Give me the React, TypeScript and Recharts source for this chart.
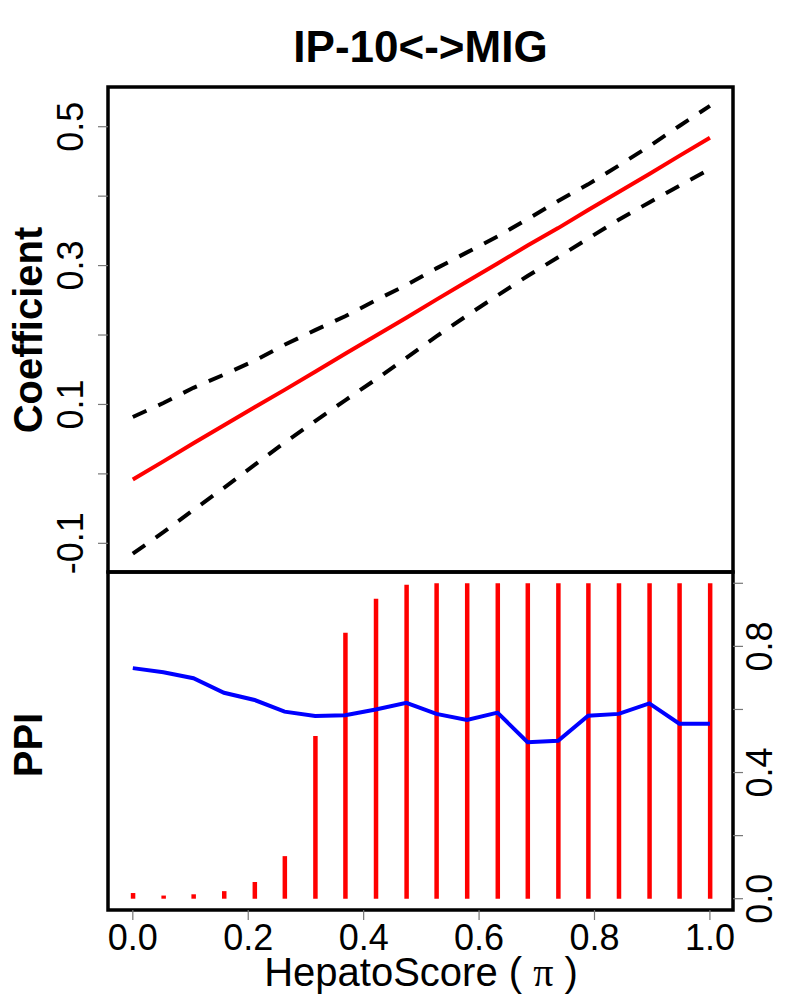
import React from "react";
import {
  ComposedChart, Line, Bar, XAxis, YAxis, ReferenceArea,
} from "recharts";

const FONT = "'Liberation Sans', Arial, Helvetica, sans-serif";

// HepatoScore grid (20 points)
const xs = [0, 0.053, 0.105, 0.158, 0.211, 0.263, 0.316, 0.368, 0.421, 0.474,
  0.526, 0.579, 0.632, 0.684, 0.737, 0.789, 0.842, 0.895, 0.947, 1.0];

// coefficient panel
const coefFit = [-0.008, 0.018, 0.044, 0.070, 0.096, 0.121, 0.147, 0.173, 0.199, 0.225,
  0.251, 0.277, 0.303, 0.329, 0.354, 0.380, 0.406, 0.432, 0.458, 0.484];
const coefUpper = [0.082, 0.102, 0.124, 0.143, 0.163, 0.186, 0.207, 0.227, 0.250, 0.272,
  0.296, 0.319, 0.342, 0.367, 0.393, 0.417, 0.444, 0.472, 0.501, 0.530];
const coefLower = [-0.115, -0.084, -0.052, -0.020, 0.013, 0.045, 0.076, 0.106, 0.136, 0.167,
  0.198, 0.228, 0.257, 0.285, 0.312, 0.339, 0.366, 0.391, 0.415, 0.439];

// PPI panel
const ppiLine = [0.731, 0.718, 0.699, 0.653, 0.630, 0.593, 0.579, 0.582, 0.600, 0.621,
  0.586, 0.567, 0.590, 0.496, 0.501, 0.580, 0.586, 0.619, 0.555, 0.555];
const ppiBars = [0.018, 0.010, 0.014, 0.024, 0.053, 0.135, 0.516, 0.843, 0.951, 0.995,
  1.0, 1.0, 1.0, 1.0, 1.0, 1.0, 1.0, 1.0, 1.0, 1.0];

const xTicks = [0, 0.2, 0.4, 0.6, 0.8, 1.0];
const coefTicks = [-0.1, 0, 0.1, 0.2, 0.3, 0.4, 0.5];
const coefLabels = [-0.1, 0.1, 0.3, 0.5];
const ppiTicks = [0, 0.2, 0.4, 0.6, 0.8, 1.0];
const ppiLabels = [0, 0.4, 0.8];

const X_DOM: [number, number] = [-0.043, 1.04];
const COEF_DOM: [number, number] = [-0.1413, 0.5572];
const PPI_DOM: [number, number] = [-0.0358, 1.0358];

const tickStyle = { stroke: "#777", strokeWidth: 1.2 };

function LeftTick({ y, payload }: any) {
  if (!coefLabels.includes(payload.value)) return <g />;
  return (
    <text x={83} y={y} transform={`rotate(-90 83 ${y})`} textAnchor="middle"
      fontFamily={FONT} fontSize={36} fill="#000">
      {payload.value.toFixed(1)}
    </text>
  );
}

function RightTick({ y, payload }: any) {
  if (!ppiLabels.includes(payload.value)) return <g />;
  return (
    <text x={772} y={y} transform={`rotate(-90 772 ${y})`} textAnchor="middle"
      fontFamily={FONT} fontSize={36} fill="#000">
      {payload.value.toFixed(1)}
    </text>
  );
}

function BottomTick({ x, payload }: any) {
  return (
    <text x={x} y={950} textAnchor="middle" fontFamily={FONT} fontSize={36} fill="#000">
      {payload.value.toFixed(1)}
    </text>
  );
}

export default function App() {
  const top = xs.map((x, i) => ({ x, fit: coefFit[i], up: coefUpper[i], lo: coefLower[i] }));
  const bottom = xs.map((x, i) => ({ x, ppi: ppiLine[i], bar: ppiBars[i] }));

  return (
    <div style={{ position: "absolute", left: 0, top: 0, width: 800, height: 1000, background: "#fff" }}>
      <div style={{ position: "absolute", left: 0, top: 0 }}>
        <ComposedChart width={800} height={600} data={top}
          margin={{ top: 87, right: 67, bottom: 28, left: 0 }}>
          <XAxis type="number" dataKey="x" domain={X_DOM} allowDataOverflow hide />
          <YAxis type="number" domain={COEF_DOM} allowDataOverflow ticks={coefTicks}
            width={108} axisLine={false} tickSize={10} tickLine={tickStyle}
            tick={<LeftTick />} interval={0} />
          <Line dataKey="up" stroke="#000" strokeWidth={4} strokeDasharray="15 13"
            dot={false} isAnimationActive={false} />
          <Line dataKey="lo" stroke="#000" strokeWidth={4} strokeDasharray="15 13"
            dot={false} isAnimationActive={false} />
          <Line dataKey="fit" stroke="#ff0000" strokeWidth={4}
            dot={false} isAnimationActive={false} />
          <ReferenceArea x1={X_DOM[0]} x2={X_DOM[1]} y1={COEF_DOM[0]} y2={COEF_DOM[1]}
            fill="none" stroke="#000" strokeWidth={3.5} ifOverflow="visible" />
        </ComposedChart>
      </div>
      <div style={{ position: "absolute", left: 0, top: 0 }}>
        <ComposedChart width={800} height={1000} data={bottom}
          margin={{ top: 572, right: 0, bottom: 0, left: 108 }}>
          <XAxis type="number" dataKey="x" domain={X_DOM} allowDataOverflow ticks={xTicks}
            height={90} axisLine={false} tickSize={10} tickLine={tickStyle}
            tick={<BottomTick />} interval={0} />
          <YAxis type="number" orientation="right" domain={PPI_DOM} allowDataOverflow
            ticks={ppiTicks} width={67} axisLine={false} tickSize={10} tickLine={tickStyle}
            tick={<RightTick />} interval={0} />
          <Bar dataKey="bar" fill="#ff0000" barSize={4.5} isAnimationActive={false} />
          <Line dataKey="ppi" stroke="#0000ff" strokeWidth={4}
            dot={false} isAnimationActive={false} />
          <ReferenceArea x1={X_DOM[0]} x2={X_DOM[1]} y1={PPI_DOM[0]} y2={PPI_DOM[1]}
            fill="none" stroke="#000" strokeWidth={3.5} ifOverflow="visible" />
        </ComposedChart>
      </div>
      <svg width={800} height={1000} style={{ position: "absolute", left: 0, top: 0, pointerEvents: "none" }}>
        <text x={420.5} y={62} textAnchor="middle" fontFamily={FONT} fontSize={44} fontWeight="bold">
          IP-10&lt;-&gt;MIG
        </text>
        <text x={42} y={330} transform="rotate(-90 42 330)" textAnchor="middle"
          fontFamily={FONT} fontSize={40} fontWeight="bold">Coefficient</text>
        <text x={42} y={745} transform="rotate(-90 42 745)" textAnchor="middle"
          fontFamily={FONT} fontSize={40} fontWeight="bold">PPI</text>
        <text x={421} y={986} textAnchor="middle" fontFamily={FONT} fontSize={40}>
          HepatoScore ( <tspan fontFamily="'Liberation Serif', serif">π</tspan> )
        </text>
      </svg>
    </div>
  );
}
